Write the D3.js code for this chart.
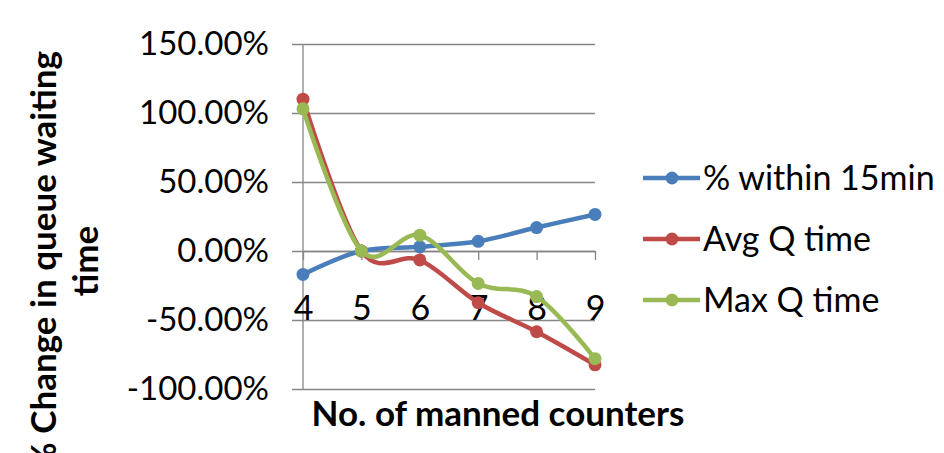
<!DOCTYPE html>
<html>
<head>
<meta charset="utf-8">
<script src="https://cdn.jsdelivr.net/npm/d3@7"></script>
<style>
  html, body { margin: 0; padding: 0; background: #fff; }
  svg { display: block; font-family: Lato, "Open Sans", sans-serif; }
</style>
</head>
<body>
<svg id="chart" width="944" height="453"></svg>
<script>
// Number of manned counters
const counters = [4, 5, 6, 7, 8, 9];
// % change values per series
const within15 = [-0.17, 0.0, 0.03, 0.07, 0.17, 0.265];
const avgQ     = [1.10, 0.0, -0.065, -0.375, -0.585, -0.825];
const maxQ     = [1.03, 0.0, 0.115, -0.235, -0.33, -0.78];
const yTicks   = [1.5, 1.0, 0.5, 0.0, -0.5, -1.0];

const seriesNames  = ["% within 15min", "Avg Q time", "Max Q time"];
const seriesValues = [within15, avgQ, maxQ];
const seriesColors = ["#4A7EBB", "#BE4B48", "#98B954"];

const svg = d3.select("#chart");

const plot = { left: 303, right: 595, top: 44, bottom: 389 };

const x = d3.scalePoint().domain(counters).range([plot.left, plot.right]);
const y = d3.scaleLinear().domain([-1.0, 1.5]).range([plot.bottom, plot.top]);

// percent labels with a plain hyphen for negatives
const fmt = d => (d * 100).toFixed(2) + "%";

// horizontal gridlines with y tick marks
const yAxis = d3.axisLeft(y)
  .tickValues(yTicks)
  .tickSize(-(plot.right - plot.left))
  .tickPadding(34)
  .tickFormat(fmt);

const gy = svg.append("g").attr("transform", `translate(${plot.left},0)`).call(yAxis);
gy.select(".domain").remove();
gy.selectAll(".tick line").attr("stroke", "#868686").attr("stroke-width", 1.3)
  .attr("x1", -11);
gy.selectAll(".tick text")
  .attr("fill", "#000")
  .attr("font-size", 33)
  .attr("font-family", "Lato, sans-serif");

// vertical value axis line
svg.append("line")
  .attr("x1", plot.left).attr("x2", plot.left)
  .attr("y1", plot.top).attr("y2", plot.bottom)
  .attr("stroke", "#868686").attr("stroke-width", 1.3);

// category axis crossing at zero
const xAxis = d3.axisBottom(x).tickSize(9).tickPadding(36).tickSizeOuter(0);
const gx = svg.append("g").attr("transform", `translate(0,${y(0)})`).call(xAxis);
gx.select(".domain").attr("stroke", "#868686").attr("stroke-width", 1.3);
gx.selectAll(".tick line").attr("stroke", "#868686").attr("stroke-width", 1.3);
gx.selectAll(".tick text")
  .attr("fill", "#000")
  .attr("font-size", 34)
  .attr("font-family", "Lato, sans-serif");

// smoothed series lines with markers
const line = d3.line()
  .x((d, i) => x(counters[i]))
  .y(d => y(d))
  .curve(d3.curveCatmullRom.alpha(0));

seriesValues.forEach((vals, k) => {
  const g = svg.append("g");
  g.append("path")
    .attr("d", line(vals))
    .attr("fill", "none")
    .attr("stroke", seriesColors[k])
    .attr("stroke-width", 4.5)
    .attr("stroke-linejoin", "round")
    .attr("stroke-linecap", "round");
  g.selectAll("circle").data(vals).join("circle")
    .attr("cx", (d, i) => x(counters[i]))
    .attr("cy", d => y(d))
    .attr("r", 6.5)
    .attr("fill", seriesColors[k]);
});

// axis titles
svg.append("text")
  .attr("x", 498).attr("y", 426)
  .attr("text-anchor", "middle")
  .attr("font-weight", "bold")
  .attr("font-size", 35)
  .attr("font-family", "Lato, sans-serif")
  .text("No. of manned counters");

const yTitle = svg.append("text")
  .attr("transform", "translate(64,261) rotate(-90)")
  .attr("text-anchor", "middle")
  .attr("font-weight", "bold")
  .attr("font-size", 35)
  .attr("font-family", "Lato, sans-serif");
yTitle.append("tspan").attr("x", 0).attr("y", -8).text("% Change in queue waiting");
yTitle.append("tspan").attr("x", 0).attr("y", 34).text("time");

// legend
const legend = svg.append("g");
seriesNames.forEach((name, k) => {
  const ly = 178 + k * 61;
  legend.append("line")
    .attr("x1", 643).attr("x2", 700).attr("y1", ly).attr("y2", ly)
    .attr("stroke", seriesColors[k]).attr("stroke-width", 4.5);
  legend.append("circle")
    .attr("cx", 672).attr("cy", ly).attr("r", 6.5).attr("fill", seriesColors[k]);
  legend.append("text")
    .attr("x", 703).attr("y", ly).attr("dy", "0.35em")
    .attr("font-size", 34)
    .attr("font-family", "Lato, sans-serif")
    .text(name);
});
</script>
</body>
</html>
